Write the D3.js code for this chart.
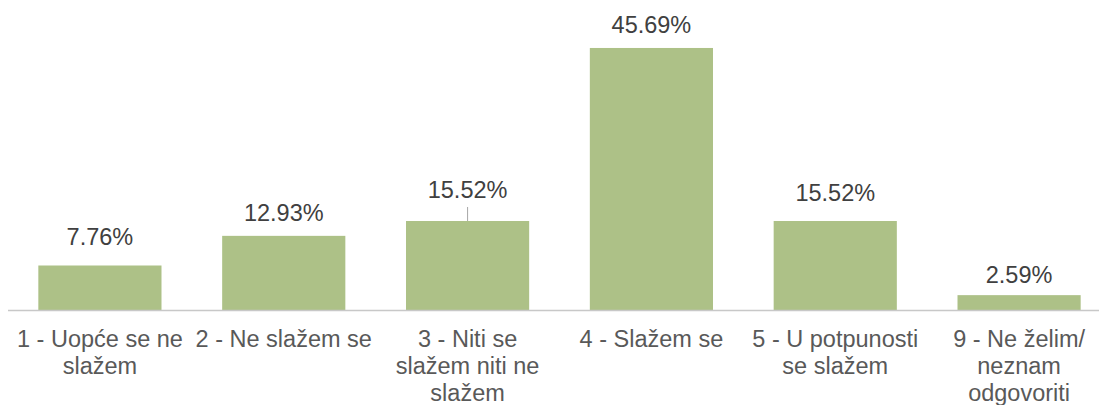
<!DOCTYPE html>
<html>
<head>
<meta charset="utf-8">
<script src="https://cdn.jsdelivr.net/npm/d3@7"></script>
<style>
  body { margin: 0; background: #fff; }
  text { font-family: "Liberation Sans", Arial, sans-serif; }
</style>
</head>
<body>
<div id="chart"></div>
<script>
// categories, split into the lines they wrap to
const categories = [
    ["1 - Uopće se ne", "slažem"],
    ["2 - Ne slažem se"],
    ["3 - Niti se", "slažem niti ne", "slažem"],
    ["4 - Slažem se"],
    ["5 - U potpunosti", "se slažem"],
    ["9 - Ne želim/", "neznam", "odgovoriti"]
];
const values = [7.76, 12.93, 15.52, 45.69, 15.52, 2.59];
const valueLabels = ["7.76%", "12.93%", "15.52%", "45.69%", "15.52%", "2.59%"];

// gap between bar top and label baseline (labels sit unevenly in the original)
const labelGap = [20, 15, 23, 15, 20, 12];

const width = 1099;
const height = 405;
const baseY = 310;

const svg = d3.select("#chart")
    .append("svg")
    .attr("width", width)
    .attr("height", height);

const x = d3.scaleBand()
    .domain(d3.range(values.length))
    .range([8, 1111])
    .paddingInner(0.33)
    .paddingOuter(0.165);

const y = d3.scaleLinear()
    .domain([0, 50])
    .range([baseY, baseY - 50 * 5.735]);

// bars
svg.append("g")
    .selectAll("rect")
    .data(values)
    .enter().append("rect")
    .attr("x", (d, i) => x(i))
    .attr("y", d => y(d))
    .attr("width", x.bandwidth())
    .attr("height", d => baseY - y(d))
    .attr("fill", "#adc187");

// axis line
const axis = svg.append("g")
    .attr("transform", `translate(0,${baseY})`)
    .call(d3.axisBottom(x).tickSize(0).tickFormat(""));
axis.select(".domain")
    .attr("d", `M8,0.5H${width}`)
    .attr("stroke", "#c8c8c8")
    .attr("stroke-width", 1.5);

// category labels
axis.selectAll(".tick").each(function(d, i) {
    const t = d3.select(this).append("text")
        .attr("text-anchor", "middle")
        .attr("fill", "#595959")
        .attr("font-size", "23.5px");
    categories[i].forEach((line, k) => {
        t.append("tspan")
            .attr("x", 0)
            .attr("y", 37 + k * 27)
            .text(line);
    });
});

// value labels
svg.append("g")
    .selectAll("text")
    .data(values)
    .enter().append("text")
    .attr("x", (d, i) => x(i) + x.bandwidth() / 2)
    .attr("y", (d, i) => y(d) - labelGap[i])
    .attr("text-anchor", "middle")
    .attr("fill", "#404040")
    .attr("font-size", "23.5px")
    .text((d, i) => valueLabels[i]);

// leader line on the third bar
svg.append("line")
    .attr("x1", x(2) + x.bandwidth() / 2)
    .attr("x2", x(2) + x.bandwidth() / 2)
    .attr("y1", y(values[2]) - 14)
    .attr("y2", y(values[2]))
    .attr("stroke", "#a6a6a6")
    .attr("stroke-width", 1);
</script>
</body>
</html>
